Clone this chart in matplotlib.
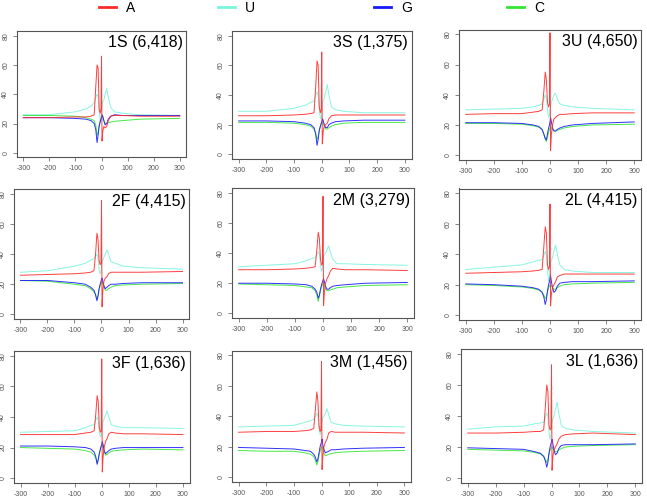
import numpy as np
import matplotlib
matplotlib.use("Agg")
import matplotlib.pyplot as plt
from matplotlib.lines import Line2D

plt.rcParams['font.family'] = ['Liberation Sans', 'DejaVu Sans']
plt.rcParams['axes.unicode_minus'] = False

# positions relative to the site (shared grid for all panels)
pos = [-300, -200, -100, -60, -40, -28, -22, -17, -13, -9, -5, -2, 0, 2, 5, 9, 14, 20, 26, 35, 50, 80, 150, 300]

titles = ['1S (6,418)', '3S (1,375)', '3U (4,650)',
          '2F (4,415)', '2M (3,279)', '2L (4,415)',
          '3F (1,636)', '3M (1,456)', '3L (1,636)']

# values, one list per base per panel
A_1S = [24, 24, 24.5, 24.5, 25, 26, 45, 60, 58, 30, 27, 30, 66, 8, 15, 18, 17, 18, 22, 25, 25.5, 25.5, 25, 25]
U_1S = [26, 26, 28, 30, 32, 34, 38, 40, 38, 28, 22, 24, 30, 33, 35, 36, 40, 44, 38, 31, 28, 27, 26, 25.5]
G_1S = [24, 24, 23.5, 23, 22, 20, 16, 7, 12, 18, 21, 23, 24, 26, 25, 22, 19, 20, 23, 25, 26, 25.5, 25.5, 25.5]
C_1S = [25.5, 25.5, 25, 24, 23, 22, 19, 12, 14, 19, 22, 23, 24, 25, 24, 22, 20, 20, 20.5, 21, 21.5, 22, 23, 23.5]

A_3S = [26, 26, 26.5, 27, 27.5, 28, 45, 63, 60, 32, 28, 30, 69, 7, 15, 19, 20, 21, 24, 26, 26.5, 26.5, 26.5, 26.5]
U_3S = [29, 29, 31, 33, 35, 36, 40, 42, 40, 30, 24, 25, 30, 34, 36, 38, 42, 47, 40, 32, 30, 29, 28, 28]
G_3S = [22.5, 22.5, 22, 21, 20, 18, 14, 6, 10, 16, 19, 21, 22, 24, 23, 20, 18, 18, 20, 21, 22, 22.5, 23, 23]
C_3S = [21.5, 21.5, 21, 20, 19, 17, 14, 10, 12, 16, 19, 20, 21, 22, 21, 19, 17, 17, 18, 19, 20, 21, 21.5, 21.5]

A_3U = [27, 27.5, 27.5, 28.5, 29, 30, 42, 55, 50, 35, 32, 34, 81, 3, 14, 20, 24, 25, 26, 27, 27, 27.5, 28, 28]
U_3U = [30, 30.5, 31, 32, 33, 34, 37, 40, 38, 30, 25, 26, 30, 33, 35, 37, 40, 41, 37, 34, 33, 32, 31, 30]
G_3U = [21.5, 21.5, 21, 20, 19, 17, 14, 11, 10, 14, 18, 20, 22, 25, 22, 18, 16, 16, 17, 18, 19, 20, 21, 22]
C_3U = [21, 21, 20.5, 19.5, 18.5, 17, 14, 11, 9, 12, 15, 17, 18, 19, 18, 17, 16, 16, 16.5, 17, 18, 19, 20, 20.5]

A_2F = [26, 26.5, 27, 27.5, 28, 29, 40, 54, 50, 36, 33, 34, 76, 5, 16, 22, 24, 25, 27, 28, 28, 28, 28, 28.5]
U_2F = [28, 29, 32, 34, 36, 37, 39, 40, 38, 30, 27, 28, 32, 35, 36, 38, 40, 43, 40, 35, 34, 32, 31, 30]
G_2F = [22.5, 22.5, 21, 20, 18, 16, 13, 9, 12, 17, 20, 22, 23, 24, 22, 19, 17, 18, 19, 20, 20, 20.5, 21, 21]
C_2F = [22.5, 22, 20, 19, 17, 15, 13, 10, 12, 16, 19, 20, 21, 22, 20, 18, 16, 16, 17, 18, 19, 19.5, 20, 20.5]

A_2M = [29, 29, 29.5, 30, 30.5, 31, 42, 54, 50, 36, 32, 33, 78, 5, 14, 20, 23, 25, 28, 30, 29.5, 29, 29, 28.5]
U_2M = [31, 32, 33, 35, 36.5, 37, 39, 41, 40, 32, 28, 30, 34, 38, 39, 40, 42, 45, 41, 36, 33, 33, 32.5, 32]
G_2M = [20, 20, 19.5, 19, 18, 16, 14, 10, 12, 16, 19, 21, 22, 23, 21, 18, 16, 16, 17, 18, 18.5, 19, 20, 20.5]
C_2M = [19.5, 19, 18.5, 17.5, 17, 15, 12, 8, 11, 15, 18, 19, 19.5, 20, 18, 16, 15, 15, 15.5, 16, 17, 17.5, 18.5, 19]

A_2L = [27.5, 28, 28.5, 29, 29.5, 30, 45, 58, 54, 33, 30, 32, 73, 6, 14, 18, 20, 22, 25, 26, 27, 27, 27, 27]
U_2L = [30, 31.5, 33, 35, 36, 36.5, 39, 42, 40, 30, 22, 25, 30, 34, 36, 38, 42, 46, 40, 33, 30, 29, 28, 28]
G_2L = [20.5, 20, 19, 18, 17, 15, 12, 7, 10, 16, 20, 22, 24, 26, 22, 18, 15, 16, 19, 21, 21.5, 22, 22, 22.5]
C_2L = [20, 19.5, 18.5, 17.5, 16.5, 15, 13, 11, 12, 15, 18, 19, 19.5, 20, 19, 18, 17, 17, 18, 19, 20, 20.5, 21, 21.5]

A_3F = [28.5, 28.5, 28.5, 29.5, 30, 31, 42, 54, 50, 33, 30, 31, 78, 4, 14, 20, 24, 26, 29, 30, 29.5, 29, 29, 28.5]
U_3F = [30, 30.5, 31, 33, 34.5, 35, 38, 40, 38, 30, 27, 28, 32, 35, 37, 39, 41, 44, 40, 35, 34, 33, 33, 32.5]
G_3F = [21, 21, 20.5, 20, 19, 17, 14, 9, 12, 16, 19, 21, 22, 24, 22, 18, 16, 17, 18, 19, 19.5, 20, 20, 20]
C_3F = [20, 19.5, 19, 18, 17, 15, 13, 10, 12, 16, 19, 21, 21.5, 22, 20, 17, 15, 15.5, 16.5, 17.5, 18, 18.5, 19, 18.5]

A_3M = [29.5, 30, 30, 30.5, 31, 32, 45, 56, 50, 34, 30, 31, 76, 5, 14, 20, 23, 25, 29, 30, 29.5, 29.5, 29.5, 29]
U_3M = [33, 33.5, 34, 36, 37, 38, 40, 42, 40, 32, 28, 30, 34, 37, 39, 40, 42, 45, 41, 36, 35, 34, 33.5, 33]
G_3M = [19.5, 19, 18.5, 17.5, 17, 15, 13, 10, 12, 16, 20, 22, 23, 25, 21, 18, 16, 16.5, 17, 18, 18, 18.5, 19, 19.5]
C_3M = [17.5, 17, 17, 16, 15, 13.5, 11, 8, 10, 14, 17, 19, 19.5, 20, 18, 15.5, 14, 14.5, 15, 15.5, 16, 16.5, 17, 17.5]

A_3L = [29, 29, 29.5, 30, 30, 31, 46, 60, 56, 34, 31, 32, 73, 5, 14, 18, 20, 22, 25, 27, 28, 28.5, 29, 28]
U_3L = [31.5, 33, 33.5, 35, 35.5, 36, 39, 42, 40, 30, 25, 27, 32, 36, 38, 40, 44, 49, 42, 34, 32, 31, 30, 29]
G_3L = [19.5, 19, 18.5, 17, 16, 14, 11, 7, 10, 16, 20, 22, 24, 25, 22, 18, 15, 16, 19, 21, 21.5, 21.5, 21.5, 22]
C_3L = [18.5, 18, 17.5, 16.5, 15.5, 14, 12, 10, 12, 15, 18, 19, 19.5, 20, 19, 18, 17, 17, 18, 19, 20, 20.5, 21, 21.5]

panels = [
    (A_1S, U_1S, G_1S, C_1S), (A_3S, U_3S, G_3S, C_3S), (A_3U, U_3U, G_3U, C_3U),
    (A_2F, U_2F, G_2F, C_2F), (A_2M, U_2M, G_2M, C_2M), (A_2L, U_2L, G_2L, C_2L),
    (A_3F, U_3F, G_3F, C_3F), (A_3M, U_3M, G_3M, C_3M), (A_3L, U_3L, G_3L, C_3L),
]

bases = ['A', 'U', 'G', 'C']
colors = {'A': '#ff2a2a', 'U': '#7af4dc', 'G': '#1a1aff', 'C': '#33e633'}

W, H = 647, 498
fig = plt.figure(figsize=(W / 100, H / 100), dpi=100)

# axes boxes in pixels: left, right, top, bottom
boxes = [(17, 186, 31, 157.5), (232, 411.5, 31, 159), (459, 641, 29.5, 160),
         (14, 189, 189.5, 319), (232, 414, 188.5, 318), (459, 641, 188.5, 320),
         (14, 189.5, 351, 483), (232, 411, 350.5, 482), (461, 642, 349, 483)]

for i, (l, r, t, b) in enumerate(boxes):
    ax = fig.add_axes([l / W, 1 - b / H, (r - l) / W, (b - t) / H])
    A, U, G, C = panels[i]
    series = {'A': A, 'U': U, 'G': G, 'C': C}
    for base in ['U', 'C', 'G', 'A']:
        ax.plot(pos, series[base], color=colors[base], lw=0.7, alpha=0.9)
    ax.set_xlim(-324, 324)
    ax.set_ylim(-3.2, 83.2)
    ax.set_xticks([-300, -200, -100, 0, 100, 200, 300])
    ax.set_yticks([0, 20, 40, 60, 80])
    ax.tick_params(direction='out', length=3, width=0.5, colors='#555555',
                   labelsize=5, pad=2.5)
    for lab in ax.get_yticklabels():
        lab.set_rotation(90)
        lab.set_va('center')
    for sp in ax.spines.values():
        sp.set_color('#555555')
        sp.set_linewidth(0.8)
    ax.text(0.98, 0.965, titles[i], transform=ax.transAxes, ha='right', va='top',
            fontsize=11.5, color='black')

# legend row at top, placed by hand in pixels
leg_x = [99, 218, 374, 507]
for b, x0 in zip(bases, leg_x):
    fig.add_artist(Line2D([x0 / W, (x0 + 17) / W], [1 - 7 / H, 1 - 7 / H],
                          color=colors[b], lw=2, transform=fig.transFigure))
    fig.text((x0 + 27) / W, 1 - 7.5 / H, b, ha='left', va='center', fontsize=10)

fig.savefig('out.png', dpi=100)
